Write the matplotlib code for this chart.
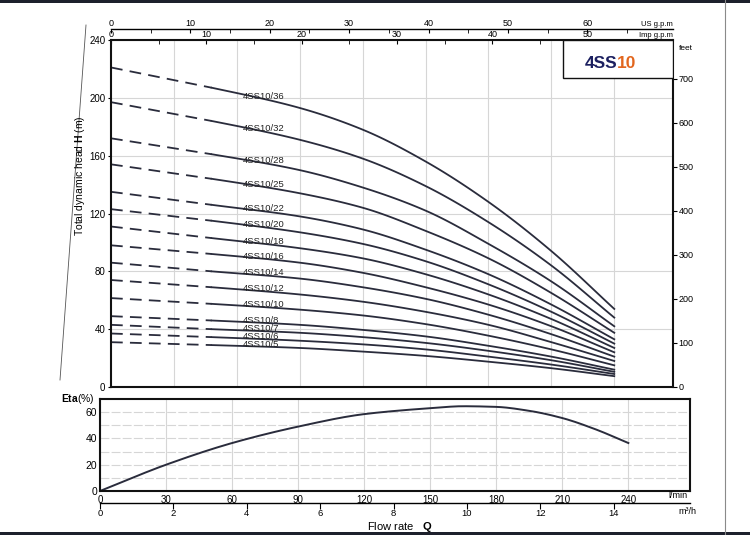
import matplotlib

matplotlib.use("Agg")
import matplotlib.pyplot as plt
import numpy as np
from matplotlib.lines import Line2D
from matplotlib.patches import Rectangle

plt.rcParams["font.family"] = ["Liberation Sans", "DejaVu Sans"]
plt.rcParams["mathtext.fontset"] = "custom"
plt.rcParams["mathtext.rm"] = "Liberation Sans"
plt.rcParams["mathtext.bf"] = "Liberation Sans:bold"

FIG_W, FIG_H = 750, 535

C_CURVE = "#2a2c3c"
C_GRID = "#d6d6d6"
C_SPINE = "#111111"
C_NAVY = "#1c2060"
C_ORANGE = "#e2661e"

# flow points (l/min) where heads were read; first segment is the dashed part
FLOW_LPM = [0, 48, 90, 120, 150, 180, 210, 240]

MODELS = ["4SS10/36", "4SS10/32", "4SS10/28", "4SS10/25", "4SS10/22",
          "4SS10/20", "4SS10/18", "4SS10/16", "4SS10/14", "4SS10/12",
          "4SS10/10", "4SS10/8", "4SS10/7", "4SS10/6", "4SS10/5"]

HEAD_36 = [221, 207, 193, 178, 156, 128, 94, 54]
HEAD_32 = [197, 184, 171, 158, 139, 114, 84, 48]
HEAD_28 = [172, 161, 150, 138, 122, 99, 73, 42]
HEAD_25 = [154, 144, 134, 124, 108, 89, 65, 37.5]
HEAD_22 = [135, 126, 118, 109, 95, 78, 57, 33]
HEAD_20 = [123, 115, 107, 99, 87, 71, 52, 30]
HEAD_18 = [111, 103, 96, 89, 78, 64, 47, 27]
HEAD_16 = [98, 92, 86, 79, 69, 57, 42, 24]
HEAD_14 = [86, 80, 75, 69, 61, 50, 36.5, 21]
HEAD_12 = [74, 69, 64, 59, 52, 43, 31, 18]
HEAD_10 = [61.5, 57.5, 53.5, 49.5, 43.5, 35.5, 26, 15]
HEAD_8 = [49, 46, 43, 39.5, 35, 28.5, 21, 12]
HEAD_7 = [43, 40, 37.5, 34.5, 30.5, 25, 18.5, 10.5]
HEAD_6 = [37, 34.5, 32, 29.5, 26, 21, 15.5, 9]
HEAD_5 = [31, 29, 27, 24.5, 21.5, 17.5, 13, 7.5]

HEADS = [HEAD_36, HEAD_32, HEAD_28, HEAD_25, HEAD_22, HEAD_20, HEAD_18,
         HEAD_16, HEAD_14, HEAD_12, HEAD_10, HEAD_8, HEAD_7, HEAD_6, HEAD_5]

ETA_FLOW = [0, 30, 60, 90, 120, 150, 165, 180, 195, 210, 225, 240]
ETA_PCT = [0, 20, 36.5, 49, 58.5, 63, 64.5, 64, 61, 55.5, 47, 36.5]

Q_MAX = 268
LABEL_Q = 63


def fig_box(x0, y0, x1, y1):
    return [x0 / FIG_W, 1 - y1 / FIG_H, (x1 - x0) / FIG_W, (y1 - y0) / FIG_H]


def fx(x):
    return x / FIG_W


def fy(y):
    return 1 - y / FIG_H


def pchip(x, y, xs):
    """Monotone cubic through the read points, just for a smooth stroke."""
    x = np.asarray(x, float)
    y = np.asarray(y, float)
    h = np.diff(x)
    d = np.diff(y) / h
    m = np.zeros_like(y)
    m[0], m[-1] = d[0], d[-1]
    for k in range(1, len(x) - 1):
        if d[k - 1] * d[k] > 0:
            w1 = 2 * h[k] + h[k - 1]
            w2 = h[k] + 2 * h[k - 1]
            m[k] = (w1 + w2) / (w1 / d[k - 1] + w2 / d[k])
    xs = np.asarray(xs, float)
    idx = np.clip(np.searchsorted(x, xs) - 1, 0, len(x) - 2)
    t = (xs - x[idx]) / h[idx]
    h00 = 2 * t**3 - 3 * t**2 + 1
    h10 = t**3 - 2 * t**2 + t
    h01 = -2 * t**3 + 3 * t**2
    h11 = t**3 - t**2
    return h00 * y[idx] + h10 * h[idx] * m[idx] + h01 * y[idx + 1] + h11 * h[idx] * m[idx + 1]


def style_spines(ax, lw=1.5):
    for sp in ax.spines.values():
        sp.set_linewidth(lw)
        sp.set_edgecolor(C_SPINE)


def main():
    fig = plt.figure(figsize=(FIG_W / 100, FIG_H / 100), dpi=100)
    fig.patch.set_facecolor("white")

    # scan artefacts: dark bands and page edges
    fig.add_artist(Rectangle((0, fy(3)), 1, 3 / FIG_H, transform=fig.transFigure,
                             facecolor="#1d202c", edgecolor="none"))
    fig.add_artist(Rectangle((0, 0), 1, 3 / FIG_H, transform=fig.transFigure,
                             facecolor="#1d202c", edgecolor="none"))
    fig.add_artist(Line2D([fx(725), fx(725)], [0, 1], transform=fig.transFigure,
                          color="#8a8a8a", lw=0.8))
    fig.add_artist(Line2D([fx(86), fx(60)], [fy(25), fy(380)], transform=fig.transFigure,
                          color="#555555", lw=0.6))

    # ---- head curves ----
    ax = fig.add_axes(fig_box(111, 40, 673, 387))
    ax.set_xlim(0, Q_MAX)
    ax.set_ylim(0, 240)
    ax.set_xticks(range(30, 241, 30))
    ax.set_yticks(range(0, 241, 40))
    ax.tick_params(axis="x", length=0, labelbottom=False)
    ax.tick_params(axis="y", direction="out", length=2, labelsize=7, pad=2)
    ax.grid(True, color=C_GRID, lw=0.8)
    ax.set_axisbelow(True)
    style_spines(ax)

    q_solid = np.linspace(FLOW_LPM[1], FLOW_LPM[-1], 120)
    for name, head in zip(MODELS, HEADS):
        ax.plot(FLOW_LPM[:2], head[:2], color=C_CURVE, lw=1.3, dashes=(6.5, 4))
        ax.plot(q_solid, pchip(FLOW_LPM, head, q_solid), color=C_CURVE, lw=1.3)
        y_lab = float(pchip(FLOW_LPM, head, [LABEL_Q + 9])[0])
        ax.text(LABEL_Q, y_lab, name, fontsize=6.8, ha="left", va="baseline",
                color="#222222")

    # Imp gpm on the top spine, US gpm just above it
    imp = ax.secondary_xaxis("top", functions=(lambda q: q * 0.219969, lambda g: g / 0.219969))
    imp.set_xticks(range(0, 51, 10))
    imp.set_xticks(range(5, 56, 10), minor=True)
    imp.tick_params(which="both", direction="in", length=3, labelsize=6.5, pad=1)
    for sp in imp.spines.values():
        sp.set_visible(False)
    ax.text(1.0, 1.004, "Imp g.p.m", transform=ax.transAxes, fontsize=5.5,
            ha="right", va="bottom")

    us = ax.secondary_xaxis(1.032, functions=(lambda q: q * 0.264172, lambda g: g / 0.264172))
    us.set_xticks(range(0, 61, 10))
    us.set_xticks(range(5, 66, 10), minor=True)
    us.tick_params(which="both", direction="in", length=3, labelsize=6.5, pad=1)
    for sp in us.spines.values():
        sp.set_linewidth(1.0)
    ax.text(1.0, 1.036, "US g.p.m", transform=ax.transAxes, fontsize=5.5,
            ha="right", va="bottom")

    feet = ax.secondary_yaxis("right", functions=(lambda m: m * 3.28084, lambda f: f / 3.28084))
    feet.set_yticks(range(0, 701, 100))
    feet.tick_params(direction="out", length=3, labelsize=6.5, pad=1)
    for sp in feet.spines.values():
        sp.set_visible(False)
    ax.text(1.01, 0.975, "feet", transform=ax.transAxes, fontsize=6, ha="left", va="center")

    # model badge
    ax.add_patch(Rectangle((0.804, 0.89), 0.196, 0.11, transform=ax.transAxes,
                           facecolor="white", edgecolor=C_SPINE, lw=1.0, zorder=4))
    fig.text(fx(617), fy(64), "4SS", fontsize=12.5, fontweight="bold", color=C_NAVY,
             ha="right", va="center", zorder=5)
    fig.text(fx(617), fy(64), "10", fontsize=12.5, fontweight="bold", color=C_ORANGE,
             ha="left", va="center", zorder=5)

    fig.text(fx(80), fy(176), r"Total dynamic head $\mathbf{H}$ (m)", rotation=90,
             fontsize=7.5, ha="center", va="center")

    # ---- efficiency ----
    ax_e = fig.add_axes(fig_box(100, 399, 690, 491))
    ax_e.set_xlim(0, Q_MAX)
    ax_e.set_ylim(0, 70)
    ax_e.set_xticks(range(0, 241, 30))
    ax_e.set_yticks(range(0, 61, 20))
    ax_e.set_yticks(range(10, 61, 10), minor=True)
    ax_e.tick_params(axis="x", length=0, labelsize=7, pad=3)
    ax_e.tick_params(axis="y", which="both", length=0, labelsize=7.5, pad=2)
    ax_e.grid(True, axis="x", color=C_GRID, lw=0.8)
    ax_e.grid(True, axis="y", which="both", color=C_GRID, lw=0.8, ls=(0, (8, 2)))
    ax_e.set_axisbelow(True)
    style_spines(ax_e)

    q_eta = np.linspace(ETA_FLOW[0], ETA_FLOW[-1], 200)
    ax_e.plot(q_eta, pchip(ETA_FLOW, ETA_PCT, q_eta), color=C_CURVE, lw=1.4)

    m3h = ax_e.secondary_xaxis(-0.13, functions=(lambda q: q * 0.06, lambda v: v / 0.06))
    m3h.set_xticks(range(0, 15, 2))
    m3h.tick_params(direction="out", length=4, labelsize=6.8, pad=0.5)
    for sp in m3h.spines.values():
        sp.set_linewidth(1.0)

    fig.text(fx(61), fy(399), r"$\mathbf{Eta}$(%)", fontsize=7.5, ha="left", va="center")
    fig.text(fx(668), fy(495), "l/min", fontsize=6.5, ha="left", va="center")
    fig.text(fx(678), fy(511), "m³/h", fontsize=6.5, ha="left", va="center")
    fig.text(fx(400), fy(527.5), r"Flow rate   $\mathbf{Q}$", fontsize=8,
             ha="center", va="center")

    fig.savefig("out.png", dpi=100, facecolor="white")
    plt.close(fig)


if __name__ == "__main__":
    main()
